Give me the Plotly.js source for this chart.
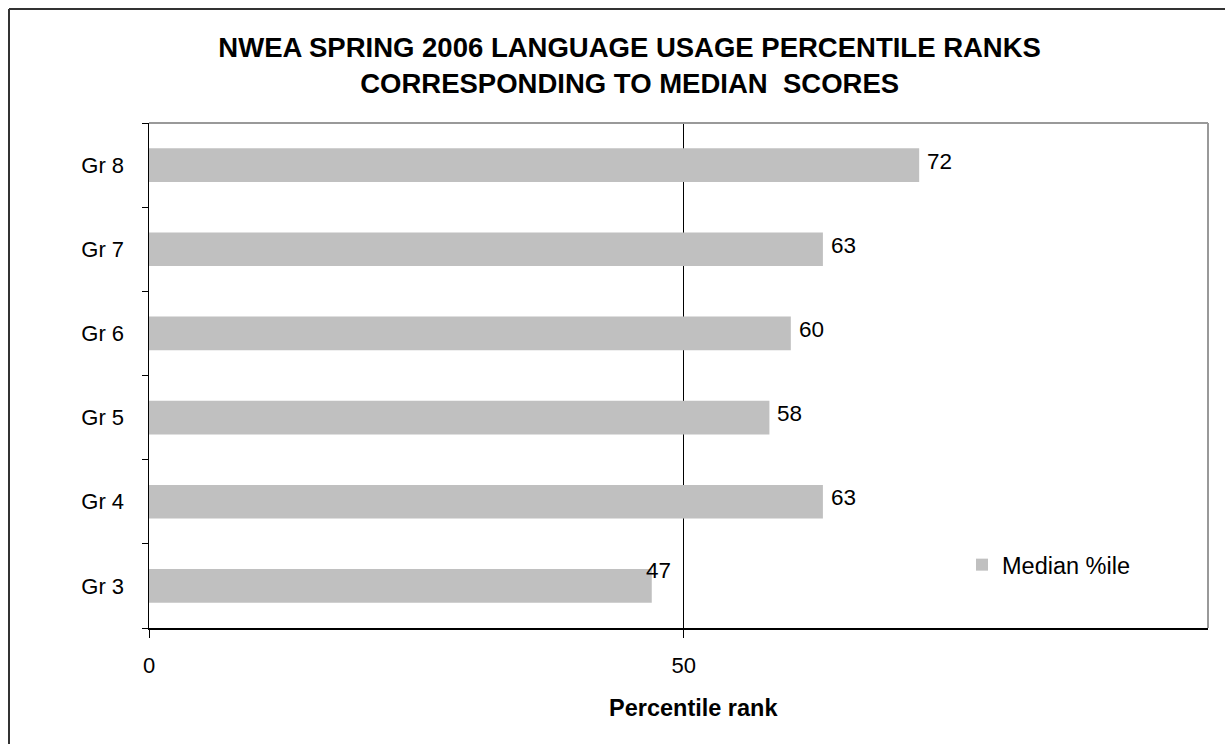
<!DOCTYPE html>
<html>
<head>
<meta charset="utf-8">
<script src="https://cdn.plot.ly/plotly-3.0.1.min.js"></script>
<style>
  html, body { margin: 0; padding: 0; background: #fff; overflow: hidden; }
  #chart { width: 1225px; height: 744px; }
</style>
</head>
<body>
<div id="chart"></div>
<script>
// ---- data ----
const categories = ["Gr 3", "Gr 4", "Gr 5", "Gr 6", "Gr 7", "Gr 8"];
const medianPercentile = [47, 63, 58, 60, 63, 72];
const seriesName = "Median %ile";
const xTickValues = [0, 50];
const titleLines = ["NWEA SPRING 2006 LANGUAGE USAGE PERCENTILE RANKS", "CORRESPONDING TO MEDIAN  SCORES"];
const xAxisTitle = "Percentile rank";

// ---- style ----
const FONT = "Liberation Sans, Arial, sans-serif";
const barColor = "#c0c0c0";
// label nudges (px) where the original placed a label differently
const labelNudge = { "Gr 3": [-14, -11] };

const trace = {
  type: "bar",
  orientation: "h",
  y: categories,
  x: medianPercentile,
  name: seriesName,
  marker: { color: barColor, line: { width: 0 } },
  width: 0.4,
  hoverinfo: "skip"
};

const annotations = categories.map((c, i) => {
  const n = labelNudge[c] || [0, 0];
  return {
    x: medianPercentile[i], y: c, xref: "x", yref: "y",
    text: String(medianPercentile[i]),
    showarrow: false, xanchor: "left", yanchor: "middle",
    xshift: 6 + n[0], yshift: 4 - n[1],
    font: { family: FONT, size: 22.5, color: "#000" }
  };
});
// x-axis title (placed as in the original, slightly right of centre)
annotations.push({
  text: "<b>" + xAxisTitle + "</b>",
  xref: "paper", yref: "paper",
  x: (693 - 149) / 1059, y: (628 - 708) / 505,
  xanchor: "center", yanchor: "middle", showarrow: false,
  font: { family: FONT, size: 23.5, color: "#000" }
});

const layout = {
  width: 1225, height: 744,
  margin: { l: 149, r: 17, t: 123, b: 116, pad: 0 },
  paper_bgcolor: "#fff", plot_bgcolor: "#fff",
  font: { family: FONT, size: 22, color: "#000" },
  title: {
    text: titleLines.join("<br>"),
    font: { family: FONT, size: 27.5, weight: "bold", color: "#000" },
    x: 0.514, xanchor: "center",
    y: 1 - 57 / 744, yref: "container", yanchor: "middle"
  },
  xaxis: {
    range: [0, 99],
    tickvals: xTickValues,
    ticktext: xTickValues.map(String),
    showgrid: true, gridcolor: "#000", gridwidth: 1,
    zeroline: false,
    showline: true, linecolor: "#000", linewidth: 1.5,
    ticks: "outside", ticklen: 8, tickcolor: "#000", tickwidth: 1,
    tickfont: { family: FONT, size: 22, color: "#000" },
    ticklabelstandoff: 9,
    fixedrange: true
  },
  yaxis: {
    type: "category",
    showgrid: false, zeroline: false,
    showline: true, linecolor: "#000", linewidth: 1.5,
    ticks: "outside", tickson: "boundaries", ticklen: 6, tickcolor: "#000", tickwidth: 1,
    tickfont: { family: FONT, size: 22, color: "#000" },
    ticklabelstandoff: 19,
    fixedrange: true
  },
  showlegend: true,
  legend: {
    x: (962 - 149) / 1059, y: 0.125, xanchor: "left", yanchor: "middle",
    bgcolor: "rgba(0,0,0,0)", borderwidth: 0,
    font: { family: FONT, size: 23.5, color: "#000" },
    itemclick: false, itemdoubleclick: false
  },
  annotations: annotations,
  shapes: [
    // plot-area border (top and right, grey)
    { type: "line", xref: "paper", yref: "paper", x0: 0, x1: 1, y0: 1, y1: 1, line: { color: "#999", width: 2 } },
    { type: "line", xref: "paper", yref: "paper", x0: 1, x1: 1, y0: 0, y1: 1, line: { color: "#999", width: 2 } },
    // outer chart border (top and left visible)
    { type: "line", xref: "paper", yref: "paper", x0: (9 - 149) / 1059, x1: (1240 - 149) / 1059, y0: (628 - 9) / 505, y1: (628 - 9) / 505, line: { color: "#333", width: 2 } },
    { type: "line", xref: "paper", yref: "paper", x0: (9 - 149) / 1059, x1: (9 - 149) / 1059, y0: (628 - 9) / 505, y1: (628 - 760) / 505, line: { color: "#333", width: 2 } }
  ]
};

Plotly.newPlot("chart", [trace], layout, { displayModeBar: false, staticPlot: true });
</script>
</body>
</html>
